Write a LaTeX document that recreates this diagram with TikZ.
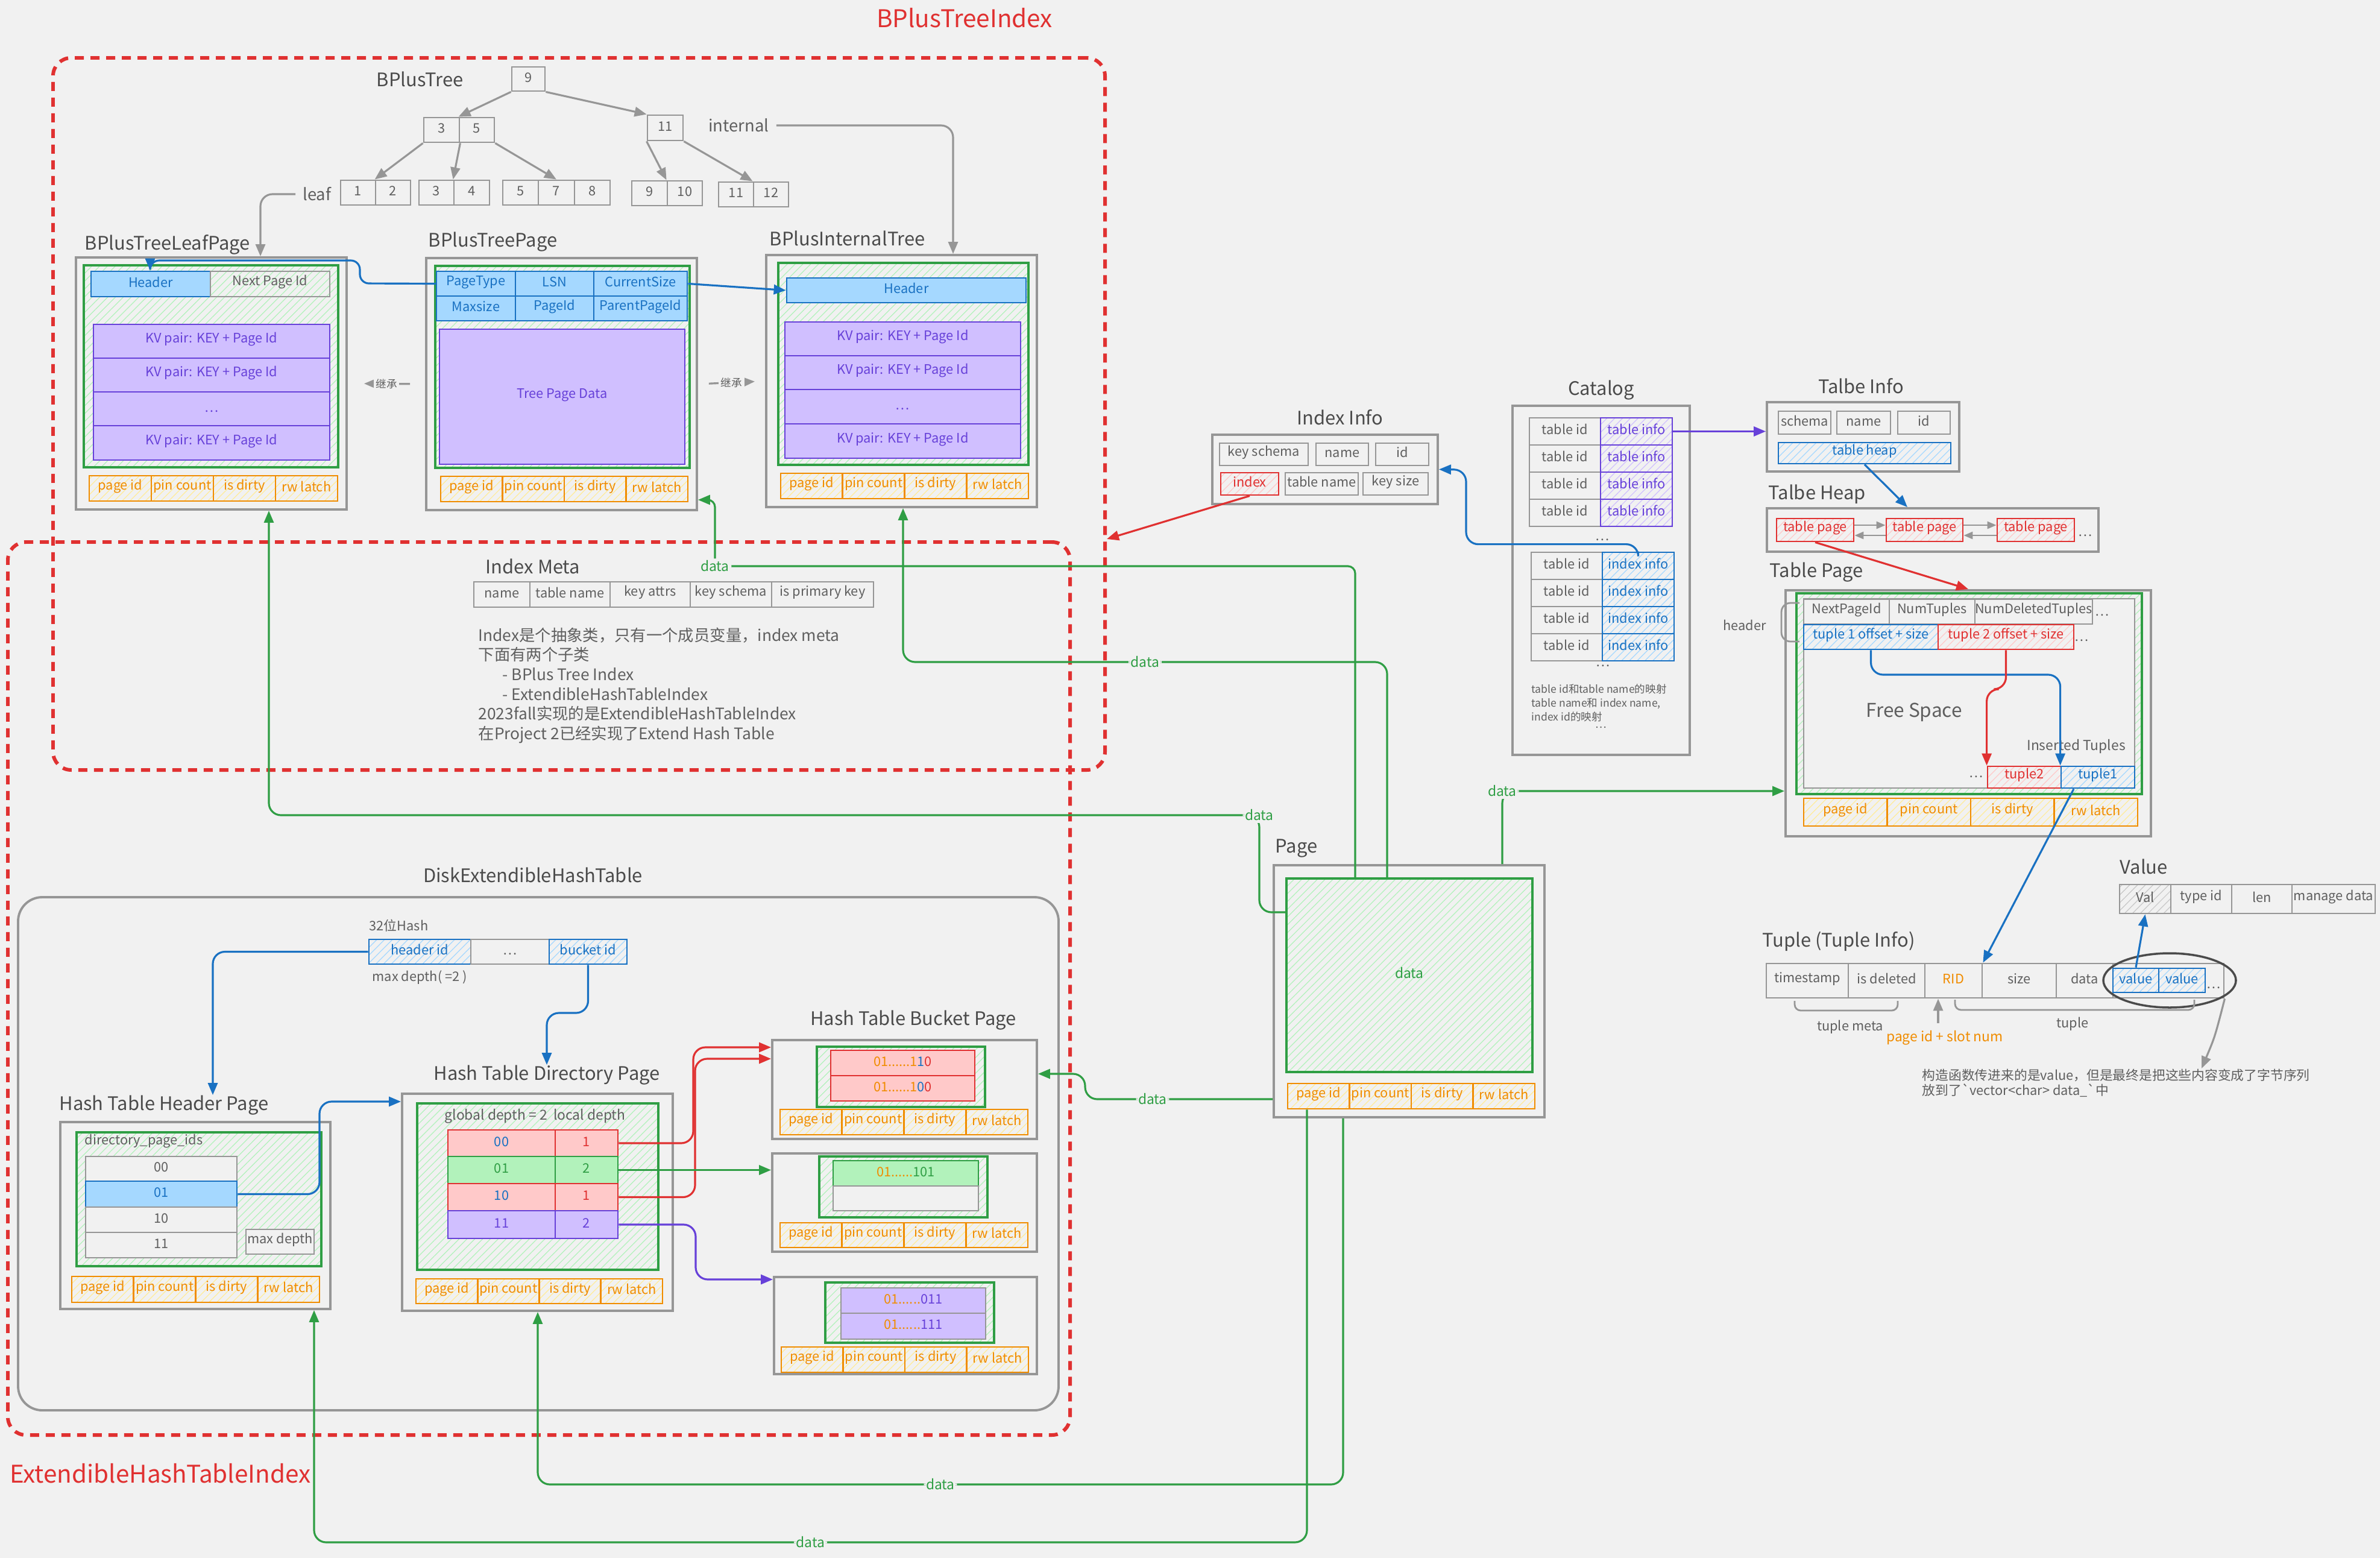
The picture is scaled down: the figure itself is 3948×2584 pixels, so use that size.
\documentclass[tikz,border=0pt]{standalone}
\usepackage{fontspec}
\setmainfont{Noto Sans CJK SC}
\usepackage{tikz}
\usetikzlibrary{arrows.meta, positioning, fit, patterns.meta, shapes.geometric}
\definecolor{bgc}{RGB}{241,241,241}
\definecolor{boxgrey}{RGB}{150,150,150}
\definecolor{txtgrey}{RGB}{95,95,95}
\definecolor{ttlgrey}{RGB}{75,75,75}
\definecolor{grnline}{RGB}{47,158,68}
\definecolor{grnfill}{RGB}{178,242,187}
\definecolor{bluline}{RGB}{25,113,194}
\definecolor{blufill}{RGB}{165,216,255}
\definecolor{purline}{RGB}{103,65,217}
\definecolor{purfill}{RGB}{208,191,255}
\definecolor{redline}{RGB}{224,49,49}
\definecolor{redfill}{RGB}{255,201,201}
\definecolor{orgline}{RGB}{240,140,0}
\definecolor{orgfill}{RGB}{255,236,153}
\definecolor{hatchgrey}{RGB}{200,200,200}
\newcommand{\cellfont}{\fontsize{6.2}{7.2}\selectfont}
\newcommand{\ttlfont}{\fontsize{8.8}{10}\selectfont}
\newcommand{\bigfont}{\fontsize{11.5}{13}\selectfont}
\newcommand{\notefont}{\fontsize{7.5}{9.3}\selectfont}
\newcommand{\tinyfont}{\fontsize{5}{6.5}\selectfont}
\newcommand{\midfont}{\fontsize{6.5}{8}\selectfont}
\newcommand{\lblfont}{\fontsize{7.8}{9}\selectfont}
\newcommand{\freefont}{\fontsize{9}{10}\selectfont}
% page id / pin count / is dirty / rw latch row: name, x1, x2, y1, y2
\newcommand{\metarow}[5]{%
  \foreach \mlbl [count=\mi from 0] in {page id,pin count,is dirty,rw latch}{%
    \pgfmathsetmacro{\mxa}{#2+\mi*(#3-#2)/4}%
    \pgfmathsetmacro{\mxb}{#2+(\mi+1)*(#3-#2)/4}%
    \node[meta, spanbox={(\mxa,#4) (\mxb,#5)}] (#1\mi) {\mlbl};
  }}
\tikzset{
  every node/.style={text=txtgrey, font=\cellfont},
  spanbox/.style={fit={#1}, execute at begin node={\lower3pt\hbox\bgroup},
    execute at end node={\egroup}},
  ttl/.style={font=\ttlfont, text=ttlgrey, inner sep=0pt},
  pagebox/.style={draw=boxgrey, line width=1.1pt, inner sep=0pt},
  dashbox/.style={draw=redline, line width=1.7pt, dash pattern=on 1.5mm off 1.1mm,
    rounded corners=3mm, inner sep=0pt},
  hatch/.style={pattern={Lines[angle=45,distance=2.6pt,line width=0.35pt]}, pattern color=#1},
  grnbox/.style={draw=grnline, line width=1pt, inner sep=0pt, hatch=grnfill},
  cell/.style={draw=boxgrey, line width=0.8pt, inner sep=0pt},
  meta/.style={cell, draw=orgline, text=orgline, hatch=orgfill},
  bluecell/.style={cell, draw=bluline, fill=blufill, text=bluline},
  bluehatch/.style={cell, draw=bluline, text=bluline, hatch=blufill},
  purcell/.style={cell, draw=purline, fill=purfill, text=purline},
  purhatch/.style={cell, draw=purline, text=purline, hatch=purfill},
  redcell/.style={cell, draw=redline, fill=redfill, text=redline},
  redhatch/.style={cell, draw=redline, text=redline, hatch=redfill},
  grncell/.style={cell, draw=grnline, fill=grnfill, text=grnline},
  greyhatch/.style={cell, hatch=hatchgrey},
  arr/.style={-{Triangle[length=2mm, width=1.6mm]}, line width=0.9pt},
  sarr/.style={-{Triangle[length=1.5mm, width=1.2mm]}, line width=0.8pt, draw=boxgrey},
  garr/.style={arr, draw=boxgrey},
  barr/.style={arr, draw=bluline},
  rarr/.style={arr, draw=redline},
  parr/.style={arr, draw=purline},
  grarr/.style={arr, draw=grnline},
  inh/.style={fill=bgc, font=\tinyfont, inner sep=1pt},
  dlbl/.style={fill=bgc, text=grnline, font=\midfont, inner sep=1pt}
}

\begin{document}
\begin{tikzpicture}[x=0.1mm, y=-0.1mm]
  \fill[bgc] (0,0) rectangle (3948,2584);
  \useasboundingbox (0,0) rectangle (3948,2584);

  % index frames
  \node[dashbox, spanbox={(88,96) (1833,1277)}] (bptframe) {};
  \node[dashbox, spanbox={(13,899) (1775,2380)}] (ehtframe) {};
  \node[font=\bigfont, text=redline] (bptlbl) at (1600,30) {BPlusTreeIndex};
  \node[font=\bigfont, text=redline] (ehtlbl) at (266,2444) {ExtendibleHashTableIndex};

  % b+ tree
  \node[ttl, anchor=west] (bptree) at (624,131) {BPlusTree};
  \node[cell, spanbox={(849,111) (904,151)}] (t9) {9};
  \node[cell, spanbox={(703,195) (762,236)}] (t3) {3};
  \node[cell, spanbox={(762,195) (820,236)}] (t5) {5};
  \node[cell, spanbox={(1074,191) (1133,233)}] (t11) {11};
  \foreach \lv/\xa/\xb/\ya in {1/565/623/299, 2/623/681/299, 3/695/753/299, 4/753/812/299,
      5/834/893/299, 7/893/953/299, 8/953/1012/299, 9/1048/1107/300, 10/1107/1165/300,
      11/1192/1250/302, 12/1250/1308/302}
    \node[cell, spanbox={(\xa,\ya) (\xb,\ya+41)}] (tl\lv) {\lv};
  \draw[garr] (t9.south west) -- (t5.north west);
  \draw[garr] (t9.south east) -- (t11.north west);
  \draw[garr] (t3.south west) -- (tl2.north west);
  \draw[garr] (t3.south east) -- (tl4.north west);
  \draw[garr] (t5.south east) -- (tl7.north);
  \draw[garr] (t11.south west) -- (tl10.north west);
  \draw[garr] (t11.south east) -- (tl12.north west);
  \node[anchor=west, font=\lblfont] (lflbl) at (490,322) {leaf};
  \node[anchor=west, font=\lblfont] (itlbl) at (1163,208) {internal};

  % leaf page
  \node[ttl, anchor=west] (lfttl) at (140,406) {BPlusTreeLeafPage};
  \node[pagebox, spanbox={(126,427) (575,845)}] (lfbox) {};
  \node[grnbox, spanbox={(139,440) (561,775)}] (lfgrn) {};
  \node[bluecell, spanbox={(151,450) (349,492)}] (lfhdr) {Header};
  \node[cell, spanbox={(349,450) (547,492)}] (lfnext) {Next Page Id};
  \foreach \ya/\yb/\kv [count=\k] in {538/594/KV pair: KEY + Page Id, 594/650/KV pair: KEY + Page Id,
      650/706/\ldots, 706/763/KV pair: KEY + Page Id}
    \node[purcell, spanbox={(155,\ya) (547,\yb)}] (lfkv\k) {\kv};
  \metarow{lfm}{148}{560}{789}{831}

  % tree page
  \node[ttl, anchor=west] (tpttl) at (710,401) {BPlusTreePage};
  \node[pagebox, spanbox={(707,428) (1156,846)}] (tpbox) {};
  \node[grnbox, spanbox={(722,441) (1144,776)}] (tpgrn) {};
  \node[bluecell, spanbox={(724,450) (855,491)}] (tph1) {PageType};
  \node[bluecell, spanbox={(855,450) (985,491)}] (tph2) {LSN};
  \node[bluecell, spanbox={(985,450) (1140,491)}] (tph3) {CurrentSize};
  \node[bluecell, spanbox={(724,491) (855,532)}] (tph4) {Maxsize};
  \node[bluecell, spanbox={(855,491) (985,532)}] (tph5) {PageId};
  \node[bluecell, spanbox={(985,491) (1140,532)}] (tph6) {ParentPageId};
  \node[purcell, spanbox={(729,546) (1136,770)}] (tpdata) {Tree Page Data};
  \metarow{tpm}{731}{1141}{790}{832}

  % internal page
  \node[ttl, anchor=west] (itttl) at (1276,395) {BPlusInternalTree};
  \node[pagebox, spanbox={(1271,423) (1720,841)}] (itbox) {};
  \node[grnbox, spanbox={(1291,436) (1706,771)}] (itgrn) {};
  \node[bluecell, spanbox={(1305,461) (1702,502)}] (ithdr) {Header};
  \foreach \ya/\yb/\kv [count=\k] in {534/590/KV pair: KEY + Page Id, 590/646/KV pair: KEY + Page Id,
      646/703/\ldots, 703/760/KV pair: KEY + Page Id}
    \node[purcell, spanbox={(1302,\ya) (1693,\yb)}] (itkv\k) {\kv};
  \metarow{itm}{1295}{1706}{785}{827}

  \draw[garr, rounded corners=2mm] (lflbl.west) -| (lfbox.north -| 432,0);
  \draw[garr, rounded corners=2mm] (itlbl.east) -| (itbox.north -| 1581,0);
  \draw[barr, rounded corners=1.5mm] (tph1.west) -- (597,470) |- (249,432) -- (lfhdr.north -| 249,0);
  \draw[barr] (tph3.east) -- (ithdr.west);
  \draw[garr, shorten <=2.5mm, shorten >=2.7mm] (tpbox.west) -- node[inh] {继承} (lfbox.east);
  \draw[garr, shorten <=1.8mm, shorten >=1.7mm] (tpbox.east) -- node[inh] {继承} (itbox.west);

  % index meta
  \node[ttl, anchor=west] (imttl) at (805,939) {Index Meta};
  \foreach \xa/\xb/\fl [count=\k] in {786/879/name, 879/1012/table name, 1012/1145/key attrs,
      1145/1280/key schema, 1280/1449/is primary key}
    \node[cell, spanbox={(\xa,965) (\xb,1007)}] (im\k) {\fl};
  \node[anchor=north west, align=left, font=\notefont, inner sep=0pt] (imnote) at (793,1040)
    {Index是个抽象类，只有一个成员变量，index meta\\下面有两个子类\\
     \hspace*{4mm}- BPlus Tree Index\\\hspace*{4mm}- ExtendibleHashTableIndex\\
     2023fall实现的是ExtendibleHashTableIndex\\在Project 2已经实现了Extend Hash Table};

  % index info
  \node[ttl] (iittl) at (2223,692) {Index Info};
  \node[pagebox, spanbox={(2011,721) (2385,836)}] (iibox) {};
  \node[cell, spanbox={(2023,735) (2170,772)}] (iiks) {key schema};
  \node[cell, spanbox={(2183,735) (2270,772)}] (iinm) {name};
  \node[cell, spanbox={(2282,735) (2370,772)}] (iiid) {id};
  \node[redhatch, spanbox={(2025,784) (2121,821)}] (iiidx) {index};
  \node[cell, spanbox={(2132,784) (2253,821)}] (iitn) {table name};
  \node[cell, spanbox={(2261,784) (2369,821)}] (iiksz) {key size};

  % catalog
  \node[ttl] (cgttl) at (2656,647) {Catalog};
  \node[pagebox, spanbox={(2509,673) (2803,1252)}] (cgbox) {};
  \foreach \k in {1,...,4}{
    \pgfmathsetmacro{\ya}{648+45*\k}
    \pgfmathsetmacro{\yb}{693+45*\k}
    \node[cell, spanbox={(2537,\ya) (2655,\yb)}] (cgt\k) {table id};
    \node[purhatch, spanbox={(2655,\ya) (2774,\yb)}] (cgi\k) {table info};
  }
  \node (cgdots1) at (2658,895) {\ldots};
  \foreach \k in {1,...,4}{
    \pgfmathsetmacro{\ya}{871+45*\k}
    \pgfmathsetmacro{\yb}{916+45*\k}
    \node[cell, spanbox={(2540,\ya) (2658,\yb)}] (cgy\k) {table id};
    \node[bluehatch, spanbox={(2658,\ya) (2777,\yb)}] (cgx\k) {index info};
  }
  \node (cgdots2) at (2659,1104) {\ldots};
  \node[anchor=north west, align=left, font=\tinyfont, inner sep=0pt] (cgnote) at (2540,1134)
    {table id和table name的映射\\table name和 index name,\\index id的映射};
  \node[font=\tinyfont] (cgdots3) at (2656,1206) {\ldots};

  % table info / heap
  \node[ttl] (tittl) at (3087,640) {Talbe Info};
  \node[pagebox, spanbox={(2931,667) (3250,782)}] (tibox) {};
  \node[cell, spanbox={(2950,682) (3037,720)}] (tisch) {schema};
  \node[cell, spanbox={(3047,682) (3136,720)}] (tinm) {name};
  \node[cell, spanbox={(3148,682) (3235,720)}] (tiid) {id};
  \node[bluehatch, spanbox={(2950,734) (3236,769)}] (tiheap) {table heap};
  \node[ttl, anchor=west] (hpttl) at (2933,820) {Talbe Heap};
  \node[pagebox, spanbox={(2931,843) (3481,915)}] (hpbox) {};
  \node[redhatch, spanbox={(2947,860) (3075,898)}] (hp1) {table page};
  \node[redhatch, spanbox={(3129,860) (3256,898)}] (hp2) {table page};
  \node[redhatch, spanbox={(3313,860) (3441,898)}] (hp3) {table page};
  \node (hpdots) at (3459,888) {\ldots};

  % table page
  \node[ttl, anchor=west] (tgttl) at (2935,949) {Table Page};
  \node[pagebox, spanbox={(2962,979) (3568,1387)}] (tgbox) {};
  \node[grnbox, spanbox={(2980,984) (3553,1317)}] (tggrn) {};
  \node[cell, fill=bgc, spanbox={(2992,993) (3541,1307)}] (tgin) {};
  \node[cell, spanbox={(2992,994) (3134,1035)}] (tgh1) {NextPageId};
  \node[cell, spanbox={(3134,994) (3276,1035)}] (tgh2) {NumTuples};
  \node[cell, spanbox={(3276,994) (3471,1035)}] (tgh3) {NumDeletedTuples};
  \node (tgdots1) at (3487,1020) {\ldots};
  \node[bluehatch, spanbox={(2992,1036) (3215,1077)}] (tgo1) {tuple 1 offset + size};
  \node[redhatch, spanbox={(3215,1036) (3440,1077)}] (tgo2) {tuple 2 offset + size};
  \node (tgdots2) at (3453,1062) {\ldots};
  \draw[boxgrey, line width=0.8pt, rounded corners=1.5mm] (2985,1000) -- (2955,1000) -- (2955,1064) -- (2985,1064);
  \node[anchor=east] (tghdr) at (2942,1037) {header};
  \node[font=\freefont] (tgfree) at (3175,1181) {Free Space};
  \node[font=\midfont] (tgins) at (3444,1238) {Inserted Tuples};
  \node[redhatch, spanbox={(3297,1271) (3419,1307)}] (tgt2) {tuple2};
  \node[bluehatch, spanbox={(3419,1271) (3541,1307)}] (tgt1) {tuple1};
  \node (tgdots3) at (3278,1288) {\ldots};
  \metarow{tgm}{2992}{3546}{1324}{1370}

  % value and tuple
  \node[ttl, anchor=west] (vlttl) at (3516,1437) {Value};
  \node[greyhatch, spanbox={(3516,1467) (3601,1515)}] (vl1) {Val};
  \node[cell, spanbox={(3601,1467) (3702,1515)}] (vl2) {type id};
  \node[cell, spanbox={(3702,1467) (3802,1515)}] (vl3) {len};
  \node[cell, spanbox={(3802,1467) (3940,1515)}] (vl4) {manage data};
  \node[ttl, anchor=west] (tpttl2) at (2923,1561) {Tuple (Tuple Info)};
  \node[cell, spanbox={(2930,1598) (3689,1655)}] (tprow) {};
  \node[cell, spanbox={(2930,1598) (3066,1655)}] (tpts) {timestamp};
  \node[cell, spanbox={(3066,1598) (3193,1655)}] (tpdel) {is deleted};
  \node[cell, text=orgline, spanbox={(3193,1598) (3288,1655)}] (tprid) {RID};
  \node[cell, spanbox={(3288,1598) (3411,1655)}] (tpsz) {size};
  \node[cell, spanbox={(3411,1598) (3505,1655)}] (tpdt) {data};
  \node[bluehatch, spanbox={(3505,1606) (3581,1646)}] (tpv1) {value};
  \node[bluehatch, spanbox={(3581,1606) (3658,1646)}] (tpv2) {value};
  \node (tpdots) at (3672,1638) {\ldots};
  \node[ellipse, draw=ttlgrey, line width=1pt, minimum width=22mm, minimum height=9mm, inner sep=0pt] (tpring) at (3599,1626) {};
  \draw[boxgrey, line width=0.8pt, rounded corners=1mm] (2977,1660) -- (2977,1676) -- (3148,1676) -- (3148,1660);
  \draw[boxgrey, line width=0.8pt, rounded corners=1mm] (3243,1658) -- (3243,1675) -- (3640,1675) -- (3640,1658);
  \node (tpmeta) at (3069,1703) {tuple meta};
  \node (tptup) at (3438,1698) {tuple};
  \node[text=orgline, font=\midfont] (tpslot) at (3226,1721) {page id + slot num};
  \node[anchor=north west, align=left, inner sep=0pt] (tpnote) at (3188,1772)
    {构造函数传进来的是value，但是最终是把这些内容变成了字节序列\\
     放到了\textasciigrave vector<char> data\_\textasciigrave 中};

  % page
  \node[ttl, anchor=west] (pgttl) at (2115,1407) {Page};
  \node[pagebox, spanbox={(2113,1435) (2562,1853)}] (pgbox) {};
  \node[grnbox, text=grnline, font=\midfont, spanbox={(2134,1457) (2542,1778)}] (pgdat) {data};
  \metarow{pgm}{2136}{2546}{1797}{1839}

  % disk extendible hash table
  \node[pagebox, rounded corners=4mm, spanbox={(30,1488) (1756,2339)}] (dkbox) {};
  \node[ttl] (dkttl) at (884,1451) {DiskExtendibleHashTable};
  \node[anchor=west, inner sep=0pt] (dkhash) at (612,1535) {32位Hash};
  \node[bluehatch, spanbox={(612,1558) (781,1599)}] (dkhid) {header id};
  \node[cell, spanbox={(781,1558) (911,1599)}] (dkdots) {\ldots};
  \node[bluehatch, spanbox={(911,1558) (1040,1599)}] (dkbid) {bucket id};
  \node[anchor=west, inner sep=0pt] (dkmax) at (617,1621) {max depth( =2 )};

  % header page
  \node[ttl] (htttl) at (272,1833) {Hash Table Header Page};
  \node[pagebox, spanbox={(100,1861) (548,2171)}] (htbox) {};
  \node[grnbox, spanbox={(127,1878) (533,2100)}] (htgrn) {};
  \node[anchor=west, inner sep=0pt] (htids) at (140,1893) {directory\_page\_ids};
  \node[cell, fill=bgc, spanbox={(142,1918) (393,1959)}] (ht00) {00};
  \node[bluecell, spanbox={(142,1959) (393,2002)}] (ht01) {01};
  \node[cell, fill=bgc, spanbox={(142,2002) (393,2044)}] (ht10) {10};
  \node[cell, fill=bgc, spanbox={(142,2044) (393,2086)}] (ht11) {11};
  \node[cell, fill=bgc, spanbox={(408,2039) (521,2080)}] (htmax) {max depth};
  \metarow{htm}{119}{530}{2117}{2160}

  % directory page
  \node[ttl] (drttl) at (907,1783) {Hash Table Directory Page};
  \node[pagebox, spanbox={(667,1814) (1116,2174)}] (drbox) {};
  \node[grnbox, spanbox={(692,1830) (1092,2106)}] (drgrn) {};
  \node[anchor=west, inner sep=0pt, font=\midfont] (drdep) at (737,1851) {global depth = 2\ \ local depth};
  \node[redcell, text=bluline, spanbox={(743,1874) (921,1918)}] (dr00) {00};
  \node[redcell, spanbox={(921,1874) (1025,1918)}] (drl0) {1};
  \node[grncell, spanbox={(743,1918) (921,1963)}] (dr01) {01};
  \node[grncell, spanbox={(921,1918) (1025,1963)}] (drl1) {2};
  \node[redcell, text=bluline, spanbox={(743,1963) (921,2008)}] (dr10) {10};
  \node[redcell, spanbox={(921,1963) (1025,2008)}] (drl2) {1};
  \node[purcell, spanbox={(743,2008) (921,2054)}] (dr11) {11};
  \node[purcell, spanbox={(921,2008) (1025,2054)}] (drl3) {2};
  \metarow{drm}{690}{1099}{2121}{2162}

  % bucket pages
  \node[ttl] (bkttl) at (1515,1692) {Hash Table Bucket Page};
  \node[pagebox, spanbox={(1281,1725) (1720,1889)}] (bk1) {};
  \node[grnbox, spanbox={(1355,1736) (1634,1836)}] (bk1g) {};
  \node[redcell, spanbox={(1378,1742) (1617,1784)}] (bk1a) {\textcolor{orgline}{01......1}\textcolor{bluline}{1}0};
  \node[redcell, spanbox={(1378,1784) (1617,1826)}] (bk1b) {\textcolor{orgline}{01......1}\textcolor{bluline}{0}0};
  \metarow{bkm}{1294}{1705}{1840}{1882}
  \node[pagebox, spanbox={(1281,1913) (1720,2076)}] (bk2) {};
  \node[grnbox, spanbox={(1359,1918) (1638,2019)}] (bk2g) {};
  \node[grncell, spanbox={(1382,1925) (1623,1967)}] (bk2a) {\textcolor{orgline}{01......}101};
  \node[cell, fill=bgc, spanbox={(1382,1967) (1623,2008)}] (bk2b) {};
  \metarow{bkn}{1294}{1705}{2028}{2069}
  \node[pagebox, spanbox={(1284,2118) (1720,2279)}] (bk3) {};
  \node[grnbox, spanbox={(1369,2127) (1649,2227)}] (bk3g) {};
  \node[purcell, draw=boxgrey, spanbox={(1395,2136) (1635,2178)}] (bk3a) {\textcolor{orgline}{01......}011};
  \node[purcell, draw=boxgrey, spanbox={(1395,2178) (1635,2221)}] (bk3b) {\textcolor{orgline}{01......}111};
  \metarow{bko}{1296}{1706}{2234}{2276}

  % connectors
  \draw[rarr] (iiidx.south) -- (bptframe.east |- 0,894);
  \draw[parr] (cgi1.east) -- (cgi1.east -| tibox.west);
  \draw[barr, rounded corners=2mm] (cgx1.north) -- ++(0,-12) -| (2432,779) -- (iibox.east);
  \draw[barr] (tiheap.south) -- (hpbox.north -| 3164,0);
  \draw[sarr] ([yshift=0.8mm]hp1.east) -- ([yshift=0.8mm]hp2.west);
  \draw[sarr] ([yshift=-0.9mm]hp2.west) -- ([yshift=-0.9mm]hp1.east);
  \draw[sarr] ([yshift=0.8mm]hp2.east) -- ([yshift=0.8mm]hp3.west);
  \draw[sarr] ([yshift=-0.9mm]hp3.west) -- ([yshift=-0.9mm]hp2.east);
  \draw[rarr] (hp1.south) -- (tgbox.north);
  \draw[barr, rounded corners=2mm] (tgo1.south) |- (tgt1.north west |- 0,1119) -- (tgt1.north west);
  \draw[rarr, rounded corners=2mm] (tgo2.south) |- (tgt2.north west |- 0,1143) -- (tgt2.north west);
  \draw[barr] ([xshift=-4mm]tgt1.south) -- (tprid.north east);
  \draw[barr] (tpv1.north) -- (vl1.south);
  \draw[garr] (tpslot.north -| 3215,0) -- (tprid.south -| 3215,0);
  \draw[garr] (tprow.south east) .. controls (3674,1720) .. (tpnote.north -| 3652,0);

  \draw[barr, rounded corners=2mm] (dkhid.west) -| (htttl.north -| 353,0);
  \draw[barr, rounded corners=2mm] (dkbid.south) |- (907,1680) -- (drttl.north -| 907,0);
  \draw[barr, rounded corners=2mm] (ht01.east) -| (530,1827) -- (drbox.west |- 0,1827);
  \draw[rarr, rounded corners=2mm] (drl0.east) -| (1150,1737) -- (bk1.west |- 0,1737);
  \draw[rarr, rounded corners=2mm] (drl2.east) -| (1153,1756) -- (bk1.west |- 0,1756);
  \draw[grarr] (drl1.east) -- (bk2.west |- drl1.east);
  \draw[parr, rounded corners=2mm] (drl3.east) -| (1154,2122) -- (bk3.west |- 0,2122);

  \draw[grarr, rounded corners=2mm] (pgdat.west |- 0,1513) -- (2089,1513) -- (2089,1352) node[dlbl] {data}
    -- (446,1352) -- (lfbox.south -| 446,0);
  \draw[grarr, rounded corners=1.2mm] (pgdat.north -| 2248,0) -- (2248,939) -- (1186,939) node[dlbl] {data}
    -- (1186,829) -- (tpbox.east |- 0,829);
  \draw[grarr, rounded corners=2mm] (pgdat.north -| 2301,0) -- (2301,1098) -- node[dlbl] {data} (1498,1098)
    -- (itbox.south -| 1498,0);
  \draw[grarr, rounded corners=2mm] (pgbox.north -| 2492,0) -- (2492,1312) node[dlbl] {data}
    -- (tgbox.west |- 0,1312);
  \draw[grarr, rounded corners=2mm] (pgbox.west |- 0,1823) -- node[dlbl, pos=0.64] {data} (1800,1823)
    -- (1800,1781) -- (bk1.east |- 0,1781);
  \draw[grarr, rounded corners=2mm] (pgm0.south -| 2168,0) -- (2168,2558) -- node[dlbl] {data} (521,2558)
    -- (htbox.south -| 521,0);
  \draw[grarr, rounded corners=2mm] (pgbox.south -| 2228,0) -- (2228,2462) -- node[dlbl] {data} (892,2462)
    -- (drbox.south -| 892,0);
\end{tikzpicture}
\end{document}
